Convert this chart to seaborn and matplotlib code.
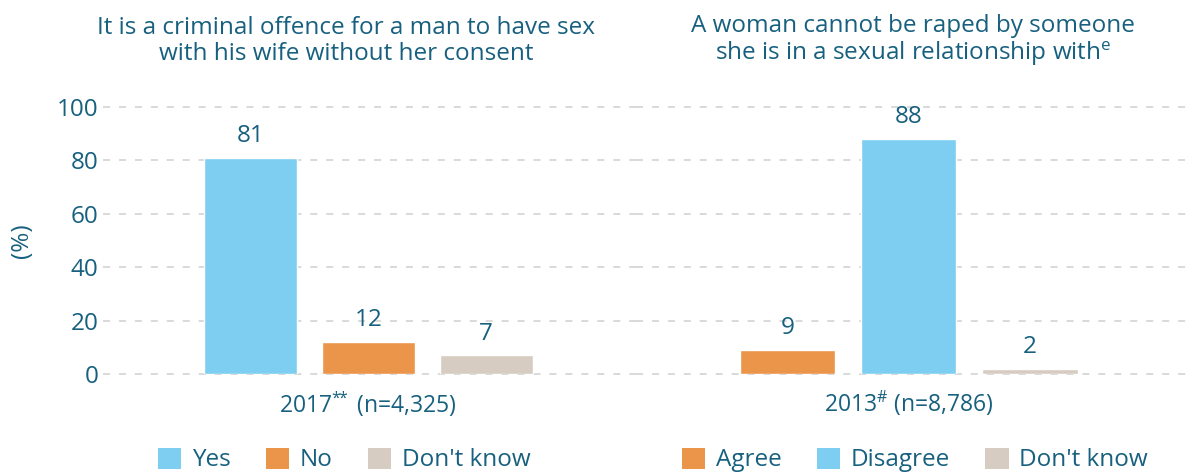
import matplotlib
matplotlib.use("Agg")
import matplotlib.pyplot as plt
import seaborn as sns
from matplotlib.patches import Patch

# Data
left_title = "It is a criminal offence for a man to have sex\nwith his wife without her consent"
left_cats = ["Yes", "No", "Don't know"]
left_vals = [81, 12, 7]
left_xlabel = r"2017$^{*\!\!*}$ (n=4,325)"

right_title = "A woman cannot be raped by someone\nshe is in a sexual relationship with$^{e}$"
right_cats = ["Agree", "Disagree", "Don't know"]
right_vals = [9, 88, 2]
right_xlabel = r"2013$^{\#}$ (n=8,786)"

y_ticks = [0, 20, 40, 60, 80, 100]

# Colours
BLUE = "#7ecef2"
ORANGE = "#eb954b"
BEIGE = "#d6ccc1"
TEXT = "#17607f"
GRID = "#d9d9d9"

left_palette = {"Yes": BLUE, "No": ORANGE, "Don't know": BEIGE}
right_palette = {"Agree": ORANGE, "Disagree": BLUE, "Don't know": BEIGE}

FS = 17.5

sns.set_style("white")
plt.rcParams["font.family"] = ["Open Sans", "DejaVu Sans"]
plt.rcParams["mathtext.fontset"] = "custom"
plt.rcParams["mathtext.rm"] = "Open Sans"
plt.rcParams["mathtext.it"] = "Open Sans"
plt.rcParams["mathtext.default"] = "regular"

W, H = 1186, 475
fig = plt.figure(figsize=(W / 100, H / 100), dpi=100)

ax_l = fig.add_axes([103 / W, 1 - 374 / H, 533 / W, 267 / H])
ax_r = fig.add_axes([636 / W, 1 - 374 / H, 550 / W, 267 / H])


def draw_panel(ax, cats, vals, palette, xlabel, xlim):
    sns.barplot(x=cats, y=vals, hue=cats, palette=palette, order=cats,
                hue_order=cats, width=0.79, saturation=1, legend=False,
                ax=ax, zorder=2)
    for cont in ax.containers:
        ax.bar_label(cont, fmt="%g", padding=7, fontsize=FS, color=TEXT)
    ax.set_ylim(0, 100)
    ax.set_xlim(*xlim)
    ax.set_yticks(y_ticks)
    ax.yaxis.grid(True, color=GRID, linewidth=1.4, linestyle=(0, (3.6, 4.6)), zorder=0)
    ax.set_axisbelow(True)
    ax.set_xticks([1], labels=[xlabel])
    ax.tick_params(axis="both", length=0, labelsize=FS, labelcolor=TEXT)
    ax.tick_params(axis="x", pad=11, labelsize=16.5)
    for s in ax.spines.values():
        s.set_visible(False)
    for gl in ax.get_ygridlines():
        gl.set_clip_on(False)


draw_panel(ax_l, left_cats, left_vals, left_palette, left_xlabel, (-1.25, 3.27))
draw_panel(ax_r, right_cats, right_vals, right_palette, right_xlabel, (-1.25, 3.29))
ax_r.set_yticklabels([])

ax_l.set_ylabel("(%)", fontsize=FS, color=TEXT, labelpad=16)

fig.text(346 / W, 1 - 41 / H, left_title, ha="center", va="center",
         fontsize=FS, color=TEXT, linespacing=1.12)
fig.text(913 / W, 1 - 41 / H, right_title, ha="center", va="center",
         fontsize=FS, color=TEXT, linespacing=1.12)

# Legends under each panel
for cats, palette, xc in [(left_cats, left_palette, 344), (right_cats, right_palette, 915)]:
    handles = [Patch(facecolor=palette[c], edgecolor="none", label=c) for c in cats]
    leg = fig.legend(handles=handles, loc="center", bbox_to_anchor=(xc / W, 1 - 460 / H),
                     ncol=3, frameon=False, fontsize=FS, handlelength=0.95,
                     handleheight=0.95, handletextpad=0.45, columnspacing=1.45)
    for t in leg.get_texts():
        t.set_color(TEXT)

fig.savefig("out.png", dpi=100)
